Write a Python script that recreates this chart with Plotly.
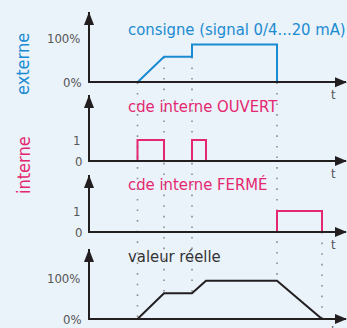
import numpy as np
import plotly.graph_objects as go
from plotly.subplots import make_subplots

# temps des événements (unité arbitraire)
t_fin = 51.4
t_consigne = [0, 9.7, 15, 20.6, 20.6, 37.6, 37.6, t_fin]
consigne = [0, 0, 58, 58, 86, 86, 0, 0]          # %

t_ouvert = [0, 9.7, 9.7, 15, 15, 20.6, 20.6, 23.4, 23.4, t_fin]
ouvert = [0, 0, 1, 1, 0, 0, 1, 1, 0, 0]

t_ferme = [0, 37.6, 37.6, 46.6, 46.6, t_fin]
ferme = [0, 0, 1, 1, 0, 0]

t_reel = [0, 9.7, 15, 20.6, 23.4, 37.6, 46.6, t_fin]
reel = [0, 0, 63, 63, 93, 93, 0, 0]              # %

# repères pointillés : temps + panneau de départ
t_repere = [9.7, 15, 20.6, 37.6, 46.6]
repere_debut = [0, 0, 0, 0, 2]

titres = ["consigne (signal 0/4...20 mA)", "cde interne OUVERT",
          "cde interne FERMÉ", "valeur réelle"]
ticks_val = [[100], [1], [1], [100]]
ticks_txt = [["100%"], ["1"], ["1"], ["100%"]]
zero_txt = ["0%", "0", "0", "0%"]

BLEU = "#1b8bd1"
ROSE = "#e4286f"
NOIR = "#231f20"
GRIS = "#555555"
FOND = "#eaf2fa"
FONT = "DejaVu Sans Condensed, sans-serif"

W, H = 347, 328
X0 = 89            # axe y (px)
x_dom = [(X0 + 1) / W, 346 / W]
x_px = (346 - X0) / t_fin
# (pointe flèche px, ligne de base px, max axe y)
panels = [(12, 82.3, 159.8), (95, 161, 3.14), (175, 232, 2.71), (249, 319, 170.7)]


def to_paper(k, v):
    top, base, ymax = panels[k]
    return 1 - (base - (base - top) * v / ymax) / H


def niveau_bas(t, ts, vs):
    egaux = [v for tt, v in zip(ts, vs) if tt == t]
    return min(egaux) if egaux else float(np.interp(t, ts, vs))


series = [(t_consigne, consigne, BLEU), (t_ouvert, ouvert, ROSE),
          (t_ferme, ferme, ROSE), (t_reel, reel, NOIR)]

fig = make_subplots(rows=4, cols=1, shared_xaxes=True)

for k, (ts, vs, col) in enumerate(series):
    fig.add_trace(go.Scatter(x=ts, y=vs, mode="lines", line=dict(color=col, width=2),
                             cliponaxis=False, showlegend=False, hoverinfo="skip"),
                  row=k + 1, col=1)

shapes = []
for t, k0 in zip(t_repere, repere_debut):
    ts0, vs0 = series[k0][0], series[k0][1]
    y0 = to_paper(k0, niveau_bas(t, ts0, vs0))
    y1 = to_paper(3, niveau_bas(t, t_reel, reel))
    shapes.append(dict(type="line", xref="x", yref="paper", x0=t, x1=t, y0=y0, y1=y1,
                       line=dict(color="#8c8c8c", width=1.6, dash="1.6px,9px"), layer="below"))

annotations = []
for k in range(4):
    top, base, ymax = panels[k]
    u = ymax / (base - top)   # 1 px en unités de données
    # flèche axe y
    shapes.append(dict(type="path", xref="paper", yref="paper", xsizemode="pixel", ysizemode="pixel",
                       xanchor=X0 / W, yanchor=1 - top / H, path="M-5,-13 L5,-13 L0,0 Z",
                       fillcolor=NOIR, line=dict(width=0)))
    # flèche axe x
    shapes.append(dict(type="path", xref="paper", yref="paper", xsizemode="pixel", ysizemode="pixel",
                       xanchor=x_dom[1], yanchor=1 - base / H, path="M1,0 L-11,5 L-11,-5 Z",
                       fillcolor=NOIR, line=dict(width=0)))
    fig.update_layout(**{
        ("xaxis" if k == 0 else "xaxis%d" % (k + 1)): dict(
            domain=x_dom, range=[1 / x_px, t_fin], showline=True, linecolor=NOIR, linewidth=2,
            showgrid=False, zeroline=False, showticklabels=False, ticks="",
            layer="above traces"),
        ("yaxis" if k == 0 else "yaxis%d" % (k + 1)): dict(
            domain=[1 - (base - 1) / H, 1 - top / H], range=[u, ymax], showline=True,
            linecolor=NOIR, linewidth=2, showgrid=False, zeroline=False, ticks="",
            tickvals=ticks_val[k], ticktext=ticks_txt[k], ticklabelstandoff=5,
            automargin=False, layer="above traces",
            tickfont=dict(family=FONT, size=13, color=GRIS)),
    })
    # étiquette du zéro (sur la ligne de l'axe)
    annotations.append(dict(x=(X0 - 6) / W, y=1 - base / H, xref="paper", yref="paper",
                            text=zero_txt[k], showarrow=False, xanchor="right", yanchor="middle",
                            borderpad=0, font=dict(family=FONT, size=13, color=GRIS)))
    # étiquette "t"
    annotations.append(dict(x=333 / W, y=1 - (base + 12) / H, xref="paper", yref="paper",
                            text="t", showarrow=False, xanchor="center", yanchor="middle",
                            font=dict(family=FONT, size=13, color=GRIS)))

titre_y = [30, 107, 185, 256]
titre_col = [BLEU, ROSE, ROSE, "#333333"]
for k in range(4):
    annotations.append(dict(x=126 / W, y=1 - titre_y[k] / H, xref="paper", yref="paper",
                            text=titres[k], showarrow=False, xanchor="left", yanchor="middle",
                            font=dict(family=FONT, size=16.5, color=titre_col[k])))

cotes = [dict(x=23 / W, y=1 - 64 / H, text="externe", font=dict(family=FONT, size=18, color=BLEU)),
         dict(x=23 / W, y=1 - 165 / H, text="interne", font=dict(family=FONT, size=18, color=ROSE))]
for c in cotes:
    c.update(xref="paper", yref="paper", textangle=-90, showarrow=False,
             xanchor="center", yanchor="middle")

fig.update_layout(width=W, height=H, margin=dict(l=0, r=0, t=0, b=0, autoexpand=False),
                  paper_bgcolor=FOND, plot_bgcolor="rgba(0,0,0,0)",
                  shapes=shapes, annotations=annotations + cotes,
                  showlegend=False)

fig.write_html("out.html", config={"displayModeBar": False},
               post_script="document.body.style.margin='0';")
